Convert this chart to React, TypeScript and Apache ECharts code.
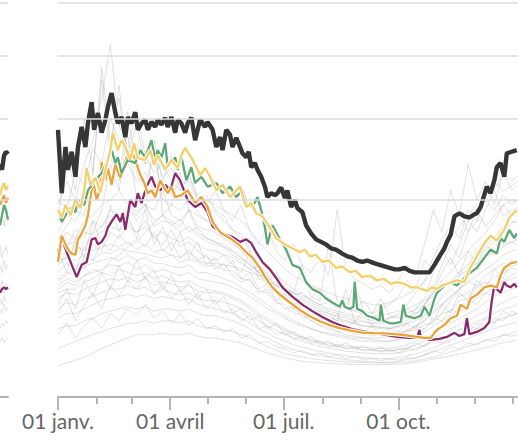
import React, { useEffect, useRef } from 'react';
import * as echarts from 'echarts';

// ---- axis definitions ----
const dayCount = 370;
const monthStarts = [0, 31, 59, 90, 120, 151, 181, 212, 243, 273, 304, 334, 365];
const quarterTicks = [0, 90, 181, 273];
const quarterLabels = ['01 janv.', '01 avril', '01 juil.', '01 oct.'];
const gridValues = [100, 200, 300, 400];

// ---- highlighted years: [day of year, value] ----
const seriesBlack: [number, number][] = [
  [0,184],[3,107],[6,161],[8,133],[11,155],[14,125],[16,161],[19,188],[22,161],[24,193],[27,224],[29,184],
  [32,208],[35,180],[38,198],[40,217],[43,238],[46,208],[48,193],[51,202],[54,174],[56,202],[59,193],[62,209],
  [64,184],[67,193],[70,198],[72,184],[75,195],[78,188],[80,198],[83,191],[86,201],[88,188],[91,202],[94,180],
  [96,198],[99,193],[102,180],[104,193],[107,201],[110,170],[114,198],[118,188],[120,195],[124,184],[127,161],
  [130,174],[132,157],[135,184],[138,177],[140,161],[143,173],[146,161],[148,153],[151,148],[153,155],[155,136],
  [158,141],[160,133],[163,125],[166,114],[168,103],[171,107],[174,105],[176,107],[179,113],[182,102],[184,110],
  [187,93],[190,100],[192,92],[196,88],[199,76],[203,69],[207,64],[211,62],[215,60],[219,57],[223,56],[228,53],
  [232,51],[236,50],[240,48],[244,47],[248,48],[254,46],[258,45],[262,44],[266,43],[270,42],[274,42],[278,43],
  [282,41],[286,40],[290,40],[294,40],[298,40],[302,45],[306,51],[310,57],[312,62],[315,68],[318,84],[322,87],
  [326,84],[330,83],[334,86],[336,87],[339,93],[344,114],[347,107],[350,121],[352,136],[355,141],[358,125],
  [360,153],[364,155],[368,157]
];
const seriesYellow: [number, number][] = [
  [0,90],[3,83],[6,95],[10,85],[14,100],[18,92],[21,110],[23,135],[26,116],[30,124],[34,108],[38,133],[42,157],
  [44,180],[48,157],[51,170],[54,161],[58,145],[61,166],[64,147],[70,145],[74,157],[77,139],[80,151],[86,133],
  [91,145],[96,135],[99,151],[102,160],[108,145],[114,127],[118,135],[122,125],[127,110],[132,116],[138,103],
  [146,114],[151,93],[155,97],[159,87],[164,84],[170,74],[175,65],[182,60],[188,57],[194,54],[198,56],[202,51],
  [207,52],[212,47],[217,48],[223,43],[228,44],[234,40],[239,41],[244,37],[250,38],[256,35],[261,36],[267,33],
  [272,34],[278,33],[283,31],[288,31],[292,30],[296,29],[300,31],[304,30],[308,32],[312,33],[316,34],[320,35],
  [326,34],[330,42],[336,51],[342,61],[347,67],[352,63],[358,72],[362,83],[368,90]
];
const seriesGreen: [number, number][] = [
  [0,90],[3,79],[6,85],[10,92],[14,88],[16,100],[21,95],[24,110],[30,121],[35,129],[40,145],[43,157],[46,141],
  [48,148],[51,129],[56,145],[62,141],[66,157],[70,148],[75,170],[78,145],[80,157],[83,148],[86,166],[88,136],
  [94,148],[96,133],[99,148],[103,121],[107,136],[110,118],[115,125],[120,114],[124,116],[127,118],[132,107],
  [138,114],[143,103],[148,110],[151,97],[156,93],[160,103],[163,90],[166,74],[168,60],[172,76],[175,70],
  [178,64],[183,56],[188,45],[194,43],[199,34],[204,30],[210,28],[215,25],[220,23],[226,21],[228,24],[230,21],
  [234,20],[237,21],[238,34],[240,20],[244,19],[248,17],[254,16],[258,15],[259,22],[261,15],[266,14],[270,14],
  [275,14.5],[277,22],[279,17],[286,16],[291,17],[294,21],[298,17],[302,25],[304,28],[310,32],[315,34],[320,32],
  [326,36.5],[331,40],[336,43],[342,50],[347,56],[352,53],[355,65],[358,62],[362,72],[366,65],[368,69]
];
const seriesOrange: [number, number][] = [
  [0,47],[3,67],[6,60],[8,56],[11,53],[14,52],[16,64],[18,67],[22,76],[24,85],[26,102],[28,121],[31,100],
  [34,113],[35,142],[38,121],[40,135],[43,116],[46,139],[50,124],[53,139],[56,151],[59,157],[62,145],[66,127],
  [69,119],[72,107],[75,110],[78,103],[82,121],[85,113],[88,107],[91,114],[94,103],[99,105],[104,110],[110,97],
  [115,103],[120,93],[124,79],[130,70],[138,65],[146,59],[151,54],[156,50],[162,43],[167,36],[172,31],[178,27],
  [186,23],[194,19.5],[202,16.8],[210,14.8],[218,13.3],[226,12.2],[234,11.4],[244,10.7],[254,10.5],[262,10.4],
  [270,10.2],[278,9.9],[288,9.3],[294,9],[299,9],[302,10.6],[304,11.6],[310,13.4],[315,16],[320,17],[323,22],
  [328,20],[331,25],[336,27],[342,31],[347,32],[352,31],[355,38],[358,43],[363,46],[368,47]
];
const seriesPurple: [number, number][] = [
  [0,54],[3,65],[7,54],[11,45],[15,37],[19,45],[23,47],[27,64],[30,65],[32,60],[35,62],[38,67],[40,74],[44,81],
  [47,86],[50,79],[52,87],[54,72],[58,100],[62,93],[64,107],[67,97],[71,114],[75,125],[78,114],[82,110],[86,116],
  [90,110],[94,129],[98,121],[101,110],[104,100],[110,93],[115,97],[120,88],[124,75],[130,70],[135,68],[140,66],
  [146,62],[151,64],[155,61],[159,54],[164,47],[170,42],[175,36.5],[180,31],[188,26],[196,22],[204,19],
  [212,16.5],[220,14.5],[228,13],[236,11.9],[244,11.2],[259,10.2],[272,9.3],[282,9],[288,9],[290,11.6],[291,9],
  [299,8.4],[306,8.7],[312,9.3],[318,10.6],[322,9.6],[326,10.2],[328,16],[330,10.2],[336,10.9],[342,12.3],
  [346,14.5],[348,24],[350,32],[352,30],[355,28],[358,34],[360,32],[363,31],[366,33],[368,31]
];

// ---- background years (weekly readings) ----
const grayDays = [0,7,14,21,28,35,42,49,56,63,70,77,84,91,98,105,112,119,126,133,140,147,154,161,168,175,182,
  189,196,203,210,217,224,231,238,245,252,259,266,273,280,287,294,301,308,315,322,329,336,343,350,357,364,368];
const gray1 = [95,120,100,140,170,230,320,190,160, 210,150,130,140,120,110,125,105,100, 95,90,85,80,72,62,55,48,42,
  38,35,32,30,28,26,25,24,23, 22,22,23,25,27,30,34,42,55, 65,75,85,95,105,120,110,115,120];
const gray2 = [70,85,80,95,120,110,150,250,140, 120,130,110,115,105,100,110,95,90, 88,80,72,65,58,50,44,38,34,
  30,27,24,22,20,19,18,17,16, 15,15,16,17,18,20,22,28,35, 40,48,55,62,70,80,95,85,90];
const gray3 = [60,70,65,80,85,95,100,110,180, 100,95,90,110,85,80,90,75,72, 70,65,60,56,50,45,40,35,31,
  28,25,23,21,19,18,17,16,15, 14,14,14,15,16,18,20,24,30, 35,40,45,55,60,65,75,80,78];
const gray4 = [55,60,62,70,68,75,85,80,90, 85,95,75,80,78,70,75,68,62, 60,58,55,50,45,40,36,32,28,
  26,24,22,20,18,17,16,15,14.5, 14,15,16,18,22,28,35,50,65, 75,90,70,80,100,110,130,120,125];
const gray5 = [50,55,52,60,65,70,75,72,78, 70,74,66,70,65,62,66,60,56, 55,52,50,46,42,38,34,30,27,
  24,22,20,18,17,15,14.5,14,13, 13,12.5,12.5,13,14,15,17,19,22, 26,30,34,38,42,46,52,55,56];
const gray6 = [48,50,48,52,55,58,60,58,62, 56,60,54,56,52,50,54,48,46, 46,45,44,42,40,38,35,32,30,
  28,26,25,30,24,22,20,19,18, 17,17,18,19,20,22,24,26,30, 34,38,42,46,50,54,60,62,64];
const gray7 = [40,46,42,50,48,54,53,57,55, 54,53,51,50,52,47,49,47,44, 45,41,41,36,35,29,28,23,22,
  18,17.5,15,14.5,12.5,12,11,11.5,10, 10.5,9.5,10,10,11.5,11.5,13.5,14,18, 19,24,25,31,32,37,39,43,42];
const gray8 = [36,40,38,44,46,48,50,48,52, 48,50,46,46,44,43,45,40,40, 38,36,34,31,28,25,22,19,17,
  15,13.5,12,11,10,9.5,9,8.5,8, 8,7.8,8,8.5,9,10,11,13,15, 17,20,22,25,28,31,34,36,37];
const gray9 = [32,36,34,38,40,42,45,44,47, 42,45,40,42,40,38,40,36,35, 34,33,31,29,26,23,20,18,16,
  14,13,12,11,10.5,10,9.5,9,9, 9,9,9.5,10,11,13,15,20,26, 30,26,28,32,34,30,35,38,40];
const gray10 = [28,30,30,34,36,40,38,42,40, 38,40,36,38,35,34,35,32,30, 29,28,26,24,21,18,16,14,12,
  10.5,9.5,8.5,8,7.5,7,6.8,6.5,6.3, 6.2,6,6.2,6.5,7,8,9,10,12, 14,16,18,20,23,26,28,30,31];
const gray11 = [25,28,27,30,32,34,36,35,37, 34,36,32,34,33,31,32,29,28, 28,27,25,23,20,17,15,13,11.5,
  10,9,8,7.5,7,6.5,6.2,6,5.8, 5.6,5.5,5.6,5.8,6.2,7,8,9,10.5, 12,13.5,15,17,19,21,23,25,26];
const gray12 = [20,23,22,25,26,28,30,30,32, 30,31,28,30,28,27,28,25,24, 24,23,22,20,18,15,13,11.5,10,
  9,8,7.2,6.6,6.2,5.8,5.4,5.2,5, 4.9,4.8,4.8,5,5.4,6,6.8,7.8,9, 10,11.5,13,14.5,16,18,20,21,22];
const gray13 = [16,18,18,20,22,24,25,26,27, 26,27,25,26,25,24,25,22,21, 20,19,18,16,14,12,10.5,9,8,
  7,6.4,5.8,5.4,5,4.7,4.4,4.2,4, 3.9,3.8,3.8,4,4.3,4.8,5.4,6.2,7.2, 8.2,9.2,10.5,12,13,14.5,16,17,18];
const gray14 = [12,13,13,15,16,18,19,20,21, 20,21,19,20,20,19,20,18,17, 17,16,15,13.5,12,10,9,7.6,6.6,
  5.8,5.2,4.7,4.4,4.1,3.8,3.6,3.4,3.3, 3.2,3.1,3.1,3.3,3.6,4,4.5,5.2,6, 7,7.8,8.8,10,11,12,13,14,14.5];
const gray15 = [6,7,8,9,10,11,12,13,14, 14,15,14,15,15,14,15,13,12.5, 12,11.5,11,10,9,7.6,6.6,5.6,4.9,
  4.4,4.1,3.8,3.6,3.4,3.3,3.2,3.1,3.1, 3,3,3,3.1,3.2,3.4,3.7,4.1,4.6, 5.2,5.8,6.6,7.4,8.2,9,9.8,10.5,11];
const gray16 = [2.5,3,3.5,4,5,6,7,8,9, 10,10,10,10.5,10,10,10.5,9.5,9, 9,8.5,8,7.5,6.6,5.8,5,4.4,3.9,
  3.6,3.3,3.1,3,2.9,2.8,2.8,2.7,2.7, 2.7,2.7,2.7,2.8,2.9,3.1,3.4,3.7,4, 4.4,4.8,5.2,5.7,6.2,7,7.6,8,8.5];
const gray17 = [65,75,90,85,130,260,150,120,210, 130,110,160,100,95,130,90,85,80, 75,70,65,58,50,44,38,33,29,
  26,23,21,19,18,16,15,14,20, 13,12.5,12,12.5,14,17,22,30,45, 60,50,70,90,75,85,95,100,98];
const gray18 = [45,50,60,55,70,90,140,110,95, 80,90,170,85,80,75,90,70,65, 62,60,55,50,45,40,34,30,26,
  23,21,19,17,16,15,30,14,13, 12.5,12,12,13,15,20,25,40,55, 45,60,80,70,90,110,85,90,92];
const gray19 = [80,150,110,200,130,280,170,230,150, 190,140,170,120,150,110,130,100,95, 110,90,80,95,70,60,75,55,48,
  60,45,40,50,38,90,42,36,33, 30,32,28,35,45,38,60,90,70, 110,85,140,100,120,95,130,110,115];
const gray20 = [55,40,65,50,80,60,95,70,85, 65,90,60,75,55,70,50,62,45, 50,42,48,36,40,30,33,24,27,
  20,23,17,19,14,18,12,15,11, 13,10,12,11,14,12,18,15,22, 18,28,24,35,30,42,36,48,45];
const gray21 = [22,30,20,35,26,40,30,45,34, 48,36,42,30,38,28,34,25,30, 22,26,18,20,15,17,12,14,10,
  11,8.5,9.5,7,8,6.5,7.5,6,6.8, 5.5,6.5,5.2,6,5.8,7.5,6.5,9,8, 11,9.5,13,12,16,14,19,17,18];
const gray22 = [35,38,45,42,60,55,70,65,75, 70,80,65,60,72,58,62,55,50, 48,52,45,40,55,36,34,40,30,
  28,45,26,24,60,22,20,35,19, 18,25,17,16,20,18,22,28,40, 50,38,55,45,60,52,58,62,60];
const gray23 = [18,25,15,22,28,20,32,26,35, 30,38,27,33,25,30,22,28,20, 24,18,20,15,17,12,13,10,11,
  8.5,9.5,7.5,8,6.5,7,6,6.5,5.5, 6,5.2,5.8,5,6.2,5.6,7,8.5,7.5, 9,12,10.5,14,12.5,16,15,19,18];
const gray24 = [100,90,130,115,160,140,200,170,150, 165,140,150,125,135,115,120,100,105, 90,85,72,68,55,46,38,30,25,
  21,18,15,13,12,11,10,9.5,9, 8.5,8.2,8,8.4,9,10,12,15,18, 24,30,38,45,55,62,70,78,80];
const gray25 = [10,14,9,13,16,12,18,15,20, 17,22,16,19,14,18,13,16,12, 13,11,12,9,10,7.5,8,6.5,6,
  5,5.6,4.5,5,4.2,4.6,3.8,4.2,3.6, 3.8,3.4,3.7,3.5,4,3.8,4.6,5.5,5, 6.5,6,7.5,7,8.5,8,10,9.5,10];
const gray26 = [65,58,72,66,80,74,90,82,95, 88,96,80,85,75,82,70,74,65, 62,58,52,48,42,44,36,32,30,
  27,28,24,22,23,20,21,19,24, 18,20,22,26,35,30,48,42,60, 75,65,90,80,100,90,105,95,100];
const gray27 = [45,52,40,58,48,62,55,68,60, 64,58,70,55,62,50,56,48,52, 42,46,38,34,36,28,30,24,20,
  21,16,17,13,14,11,12,10,11, 9.5,10.5,9,11,10,13,12,16,15, 20,18,24,22,28,26,33,31,34];
const gray28 = [30,34,32,38,42,40,48,52,58, 62,70,78,85,95,90,100,88,80, 76,70,62,55,48,40,34,28,24,
  20,18,16,14,13,12,11.5,11,10.5, 10,9.8,10,10.5,11.5,13,15,18,22, 26,30,34,32,38,42,46,44,45];
const grayYears = [gray1, gray2, gray3, gray4, gray5, gray6, gray7, gray8, gray9, gray10, gray11, gray12,
  gray13, gray14, gray15, gray16, gray17, gray18, gray19, gray20, gray21, gray22, gray23, gray24, gray25,
  gray26, gray27, gray28];

// ---- left (neighbouring) panel, its last days ----
const leftDays = [0, 1, 2, 3, 4];
const leftBlack = [140, 133, 150, 155, 152];
const leftYellow = [105, 113, 118, 110, 115];
const leftOrange = [95, 100, 105, 97, 102];
const leftGreen = [76, 85, 95, 90, 81];
const leftPurple = [28, 30, 31, 30, 31];
const leftGray1 = [60, 50, 55, 58, 52];
const leftGray2 = [30, 35, 28, 33, 30];
const leftGray3 = [20, 18, 22, 19, 21];
const leftGray4 = [12, 14, 13, 15, 14];
const leftGray5 = [80, 90, 75, 85, 88];
const leftGray6 = [45, 40, 48, 42, 46];
const leftGray7 = [8, 9, 7.5, 8.5, 9];
const leftGray8 = [25, 22, 26, 24, 23];
const leftGrays = [leftGray1, leftGray2, leftGray3, leftGray4, leftGray5, leftGray6, leftGray7, leftGray8];

const COLORS = {
  black: '#363636',
  yellow: '#f4cf6b',
  orange: '#eaa33b',
  green: '#5ea877',
  purple: '#8a2c6c',
  gray: '#9c9c9c',
};

export default function App() {
  const ref = useRef<HTMLDivElement>(null);

  useEffect(() => {
    document.body.style.margin = '0';
    if (!ref.current) return;
    const chart = echarts.init(ref.current, undefined, { renderer: 'svg' });

    const sq = (v: number) => Math.sqrt(v);
    const monthSet = new Set(monthStarts);
    const quarterSet = new Set(quarterTicks);
    const cats = Array.from({ length: dayCount }, (_, i) => String(i));
    const leftCats = leftDays.map((d) => String(d));

    const lineSeries = (data: any[], color: string, width: number, xi: number, yi: number, opacity = 1) => ({
      type: 'line',
      xAxisIndex: xi,
      yAxisIndex: yi,
      data,
      symbol: 'none',
      showSymbol: false,
      silent: true,
      lineStyle: { color, width, opacity },
      emphasis: { disabled: true },
    });

    const highlighted = [
      { d: seriesPurple, c: COLORS.purple, w: 2.3 },
      { d: seriesOrange, c: COLORS.orange, w: 2.3 },
      { d: seriesGreen, c: COLORS.green, w: 2.3 },
      { d: seriesYellow, c: COLORS.yellow, w: 2.3 },
      { d: seriesBlack, c: COLORS.black, w: 4.4 },
    ];
    const leftHighlighted = [
      { d: leftPurple, c: COLORS.purple, w: 2.3 },
      { d: leftOrange, c: COLORS.orange, w: 2.3 },
      { d: leftGreen, c: COLORS.green, w: 2.3 },
      { d: leftYellow, c: COLORS.yellow, w: 2.3 },
      { d: leftBlack, c: COLORS.black, w: 4.4 },
    ];

    const gridLineMark = {
      silent: true,
      symbol: 'none',
      label: { show: false },
      lineStyle: { color: '#dcdcdc', width: 1.6, type: 'solid' },
      data: gridValues.map((v) => ({ yAxis: sq(v) })),
    };

    const series: any[] = [];
    series.push({ ...lineSeries([], '#000', 0, 0, 0), markLine: gridLineMark });
    series.push({ ...lineSeries([], '#000', 0, 2, 1), markLine: gridLineMark });
    grayYears.forEach((vals) => {
      series.push(lineSeries(vals.map((v, i) => [grayDays[i], sq(v)]), COLORS.gray, 1, 0, 0, 0.3));
    });
    leftGrays.forEach((vals) => {
      series.push(lineSeries(vals.map((v, i) => [leftDays[i], sq(v)]), COLORS.gray, 1, 2, 1, 0.3));
    });
    highlighted.forEach((h) => {
      const data = h.d.map(([d, v]) => [d, sq(v)]);
      series.push(lineSeries(data, '#ffffff', h.w + 2, 0, 0));
      series.push(lineSeries(data, h.c, h.w, 0, 0));
    });
    leftHighlighted.forEach((h) => {
      const data = h.d.map((v, i) => [leftDays[i], sq(v)]);
      series.push(lineSeries(data, '#ffffff', h.w + 2, 2, 1));
      series.push(lineSeries(data, h.c, h.w, 2, 1));
    });

    const axisColor = '#b5b5b5';

    chart.setOption({
      animation: false,
      backgroundColor: '#ffffff',
      grid: [
        { left: 58, top: 3, width: 461.25, height: 394 },
        { left: 0, top: 3, width: 8, height: 394 },
      ],
      xAxis: [
        {
          gridIndex: 0,
          type: 'category',
          data: cats,
          boundaryGap: false,
          position: 'bottom',
          axisLine: { show: true, onZero: false, lineStyle: { color: axisColor, width: 2 } },
          axisTick: {
            show: true,
            interval: (i: number) => monthSet.has(i),
            length: 7,
            lineStyle: { color: axisColor, width: 2 },
          },
          axisLabel: { show: false },
          splitLine: { show: false },
        },
        {
          gridIndex: 0,
          type: 'category',
          data: cats,
          boundaryGap: false,
          position: 'bottom',
          axisLine: { show: false, onZero: false },
          axisTick: {
            show: true,
            interval: (i: number) => quarterSet.has(i),
            length: 13,
            lineStyle: { color: axisColor, width: 2 },
          },
          axisLabel: {
            show: true,
            interval: (i: number) => quarterSet.has(i),
            formatter: (_v: string, i: number) => {
              const k = quarterTicks.indexOf(i);
              return k >= 0 ? quarterLabels[k] : '';
            },
            color: '#666666',
            fontFamily: 'Lato',
            fontSize: 21,
            margin: 13,
          },
          splitLine: { show: false },
        },
        {
          gridIndex: 1,
          type: 'category',
          data: leftCats,
          boundaryGap: false,
          position: 'bottom',
          axisLine: { show: true, onZero: false, lineStyle: { color: axisColor, width: 2 } },
          axisTick: { show: false },
          axisLabel: { show: false },
          splitLine: { show: false },
        },
      ],
      yAxis: [
        { gridIndex: 0, type: 'value', min: 0, max: 20, show: false },
        { gridIndex: 1, type: 'value', min: 0, max: 20, show: false },
      ],
      series,
    });

    return () => chart.dispose();
  }, []);

  return <div ref={ref} style={{ width: 518, height: 441 }} />;
}
